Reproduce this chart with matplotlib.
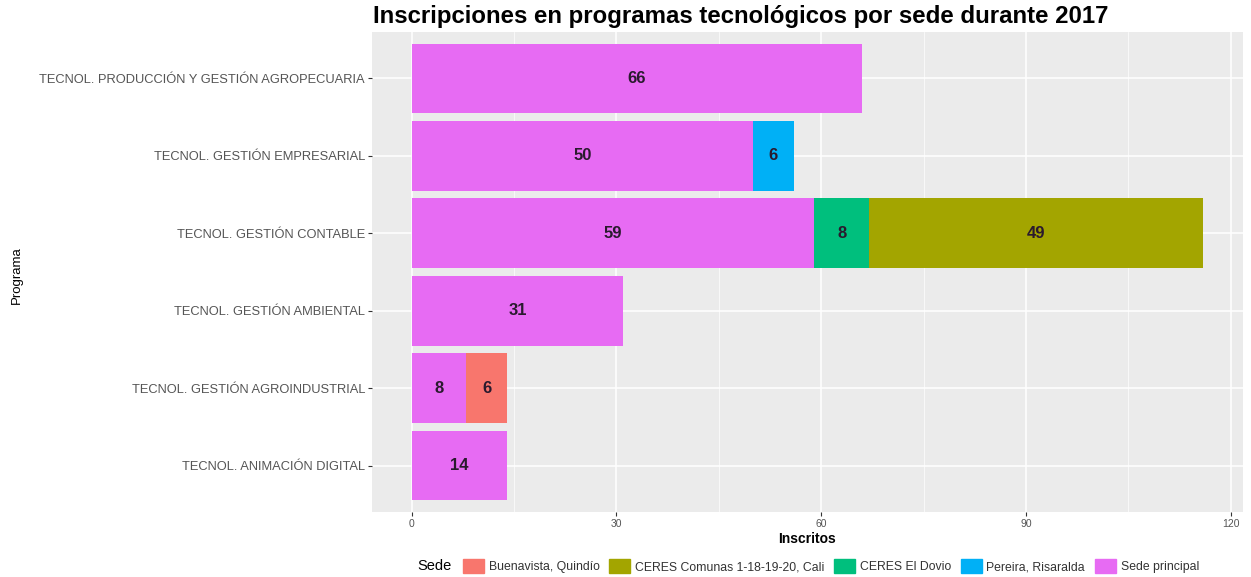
import matplotlib.pyplot as plt
import numpy as np

plt.rcParams["font.family"] = ["Liberation Sans", "DejaVu Sans"]

# datos
programas = [
    "TECNOL. PRODUCCIÓN Y GESTIÓN AGROPECUARIA",
    "TECNOL. GESTIÓN EMPRESARIAL",
    "TECNOL. GESTIÓN CONTABLE",
    "TECNOL. GESTIÓN AMBIENTAL",
    "TECNOL. GESTIÓN AGROINDUSTRIAL",
    "TECNOL. ANIMACIÓN DIGITAL",
]
sedes = [
    "Buenavista, Quindío",
    "CERES Comunas 1-18-19-20, Cali",
    "CERES El Dovio",
    "Pereira, Risaralda",
    "Sede principal",
]
colores = ["#F8766D", "#A3A500", "#00BF7D", "#00B0F6", "#E76BF3"]

buenavista = [0, 0, 0, 0, 6, 0]
ceres_cali = [0, 0, 49, 0, 0, 0]
ceres_dovio = [0, 0, 8, 0, 0, 0]
pereira = [0, 6, 0, 0, 0, 0]
sede_principal = [66, 50, 59, 31, 8, 14]

valores = [buenavista, ceres_cali, ceres_dovio, pereira, sede_principal]

fig = plt.figure(figsize=(12.51, 5.77), dpi=100)
ax = fig.add_axes([372 / 1251, 1 - 512 / 577, (1243 - 372) / 1251, (512 - 32) / 577])

y = np.arange(len(programas))[::-1]
izq = np.zeros(len(programas))
# ggplot apila en orden inverso: la última sede queda junto al cero
for i in reversed(range(len(sedes))):
    v = np.array(valores[i], dtype=float)
    ax.barh(y, v, left=izq, height=0.9, color=colores[i], zorder=3)
    for yy, l, w in zip(y, izq, v):
        if w > 0:
            ax.text(l + w / 2, yy, f"{int(w)}", ha="center", va="center",
                    fontsize=12, fontweight="bold", color="#2a1a2e", zorder=4)
    izq += v

ax.set_facecolor("#EBEBEB")
for s in ax.spines.values():
    s.set_visible(False)
ax.set_xlim(-5.8, 121.8)
ax.set_ylim(-0.6, len(programas) - 0.4)
ax.set_xticks([0, 30, 60, 90, 120])
ax.set_xticks([15, 45, 75, 105], minor=True)
ax.set_yticks(y)
ax.set_yticklabels(programas)
ax.grid(which="major", color="white", linewidth=1.1, zorder=0)
ax.grid(which="minor", axis="x", color="white", linewidth=0.5, zorder=0)
ax.set_axisbelow(True)
ax.tick_params(which="major", length=3, color="#333333", labelcolor="#555555",
               labelsize=9.3, pad=2)
ax.tick_params(axis="x", labelsize=7.5)
ax.tick_params(which="minor", length=0)

ax.set_xlabel("Inscritos", fontsize=10, fontweight="bold", labelpad=2)
fig.text(17 / 1251, 1 - 275 / 577, "Programa", rotation=90, ha="center",
         va="center", fontsize=9.5)
fig.text(373 / 1251, 1 - 16 / 577, "Inscripciones en programas tecnológicos por sede durante 2017",
         fontsize=17.3, fontweight="bold", ha="left", va="center")

# leyenda
handles = [plt.Rectangle((0, 0), 1, 1, color=c) for c in colores]
fig.text(417 / 1251, 1 - 566 / 577, "Sede", fontsize=10.5, ha="left", va="center")
fig.legend(handles, sedes, ncol=5, loc="center left",
           bbox_to_anchor=(452 / 1251, 1 - 566 / 577), frameon=False,
           fontsize=8.8, handlelength=1.7, handleheight=1.4,
           columnspacing=0.8, handletextpad=0.4, labelcolor="#333333")

fig.savefig("out.png", dpi=100)
